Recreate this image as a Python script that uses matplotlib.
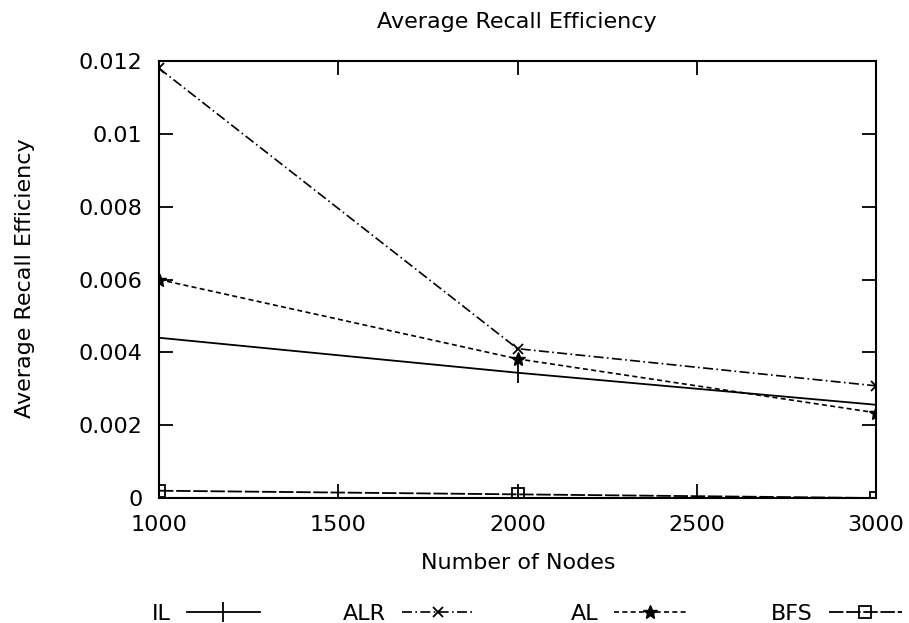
import numpy as np
import matplotlib.pyplot as plt

# data
nodes = [1000, 2000, 3000]
il = [0.0044, 0.00344, 0.00256]
alr = [0.0118, 0.0041, 0.00308]
al = [0.0060, 0.00382, 0.00234]
bfs = [0.0002, 0.0001, 0.0]

series_names = ["IL", "ALR", "AL", "BFS"]
y_ticks = [0, 0.002, 0.004, 0.006, 0.008, 0.01, 0.012]
y_tick_labels = ["0", "0.002", "0.004", "0.006", "0.008", "0.01", "0.012"]
x_ticks = [1000, 1500, 2000, 2500, 3000]

W, H = 909, 623
plt.rcParams['font.family'] = ['DejaVu Sans']
fig = plt.figure(figsize=(W / 100, H / 100), dpi=100)
# axes box in pixels: left 159, right 876, top 61, bottom 498
ax = fig.add_axes([159 / W, 1 - 498 / H, (876 - 159) / W, (498 - 61) / H])

lines = []
lines += ax.plot(nodes, il, color='black', lw=1.3, marker='|', ms=14, mew=1.3)
lines += ax.plot(nodes, alr, color='black', lw=1.2, ls=(0, (6, 2, 1, 2)), marker='x', ms=7, mew=1.3)
lines += ax.plot(nodes, al, color='black', lw=1.2, ls=(0, (3, 2)), marker='*', ms=10, mew=1.0)
lines += ax.plot(nodes, bfs, color='black', lw=1.3, ls=(0, (8, 1.5)), marker='s', ms=8, mew=1.3,
                 mfc='none')

ax.set_xlim(1000, 3000)
ax.set_ylim(0, 0.012)
ax.set_xticks(x_ticks)
ax.set_yticks(y_ticks)
ax.set_yticklabels(y_tick_labels)
ax.tick_params(direction='in', length=10, width=1.3, top=True, right=True, labelsize=16)
ax.tick_params(axis='x', pad=12)
ax.tick_params(axis='y', pad=12)
for s in ax.spines.values():
    s.set_linewidth(1.5)

fig.text(517 / W, 1 - 22 / H, "Average Recall Efficiency", fontsize=16, ha='center', va='center')
fig.text(518 / W, 1 - 563 / H, "Number of Nodes", fontsize=16, ha='center', va='center')
fig.text(25 / W, 1 - 278 / H, "Average Recall Efficiency", fontsize=16, rotation=90,
         ha='center', va='center')

# gnuplot style key: label first, then the sample, evenly spaced along the bottom
line_ends = [260, 475, 687, 902]
for ln, name, xe in zip(lines, series_names, line_ends):
    fig.legend([ln], [name], loc='center right', bbox_to_anchor=(xe / W, 1 - 614 / H),
               frameon=False, markerfirst=False, fontsize=16, handlelength=3.3,
               handletextpad=0.7, borderpad=0, borderaxespad=0)

fig.savefig("out.png", dpi=100)
